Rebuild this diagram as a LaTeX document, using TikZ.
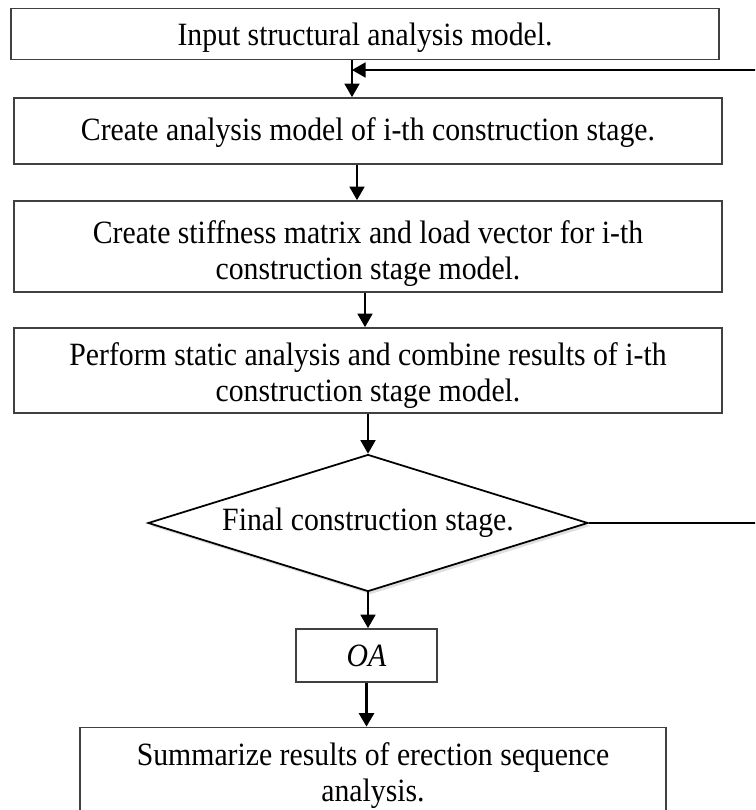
\documentclass[tikz,border=0pt]{standalone}
\usepackage{fontspec}
\setmainfont{Liberation Serif}[FakeStretch=0.915]
\usetikzlibrary{shapes.geometric,arrows.meta,shadows}

\begin{document}
\begin{tikzpicture}[x=0.02cm, y=-0.02cm,
    stagebox/.style={draw=black!75, line width=1pt, rectangle, align=center, inner sep=0pt,
        font=\fontsize{18.5}{20.5}\selectfont},
    flow/.style={line width=1pt, -{Triangle[length=0.27cm, width=0.3cm]}}]

    % Fix the size of the picture (the last box runs off the bottom)
    \clip (0,0) rectangle (755,810);

    % The stages of the analysis
    \node[stagebox, minimum width=14.16cm, minimum height=1.02cm] (input) at (365,34)
        {\rule{0pt}{0.59cm}Input structural analysis model.};
    \node[stagebox, minimum width=14.16cm, minimum height=1.32cm] (stagemodel) at (368,131)
        {\rule{0pt}{0.51cm}Create analysis model of i-th construction stage.};
    \node[stagebox, minimum width=14.16cm, minimum height=1.82cm] (stiffness) at (368,246.5)
        {\rule{0pt}{0.75cm}Create stiffness matrix and load vector for i-th\\ construction stage model.};
    \node[stagebox, minimum width=14.16cm, minimum height=1.70cm] (static) at (368,370.5)
        {\rule{0pt}{0.67cm}Perform static analysis and combine results of i-th\\ construction stage model.};

    % Decision: is this the last stage?
    \node[stagebox, diamond, aspect=3.2, draw=black, minimum width=8.8cm, minimum height=2.74cm,
        drop shadow={shadow xshift=0.05cm, shadow yshift=-0.06cm, opacity=0.25}, fill=white]
        (final) at (368,523) {Final construction stage.};

    \node[stagebox, minimum width=2.82cm, minimum height=1.06cm] (oa) at (366.5,655.5) {\textit{OA}};
    \node[stagebox, minimum width=11.72cm, minimum height=1.94cm] (summary) at (373,776)
        {Summarize results of erection sequence\\ analysis.};

    % Points where the loop back joins the main line
    \coordinate (join) at (352,70);
    \coordinate (loopright) at (780,70);

    % Arrows down the chart
    \draw[flow] (input.south -| join) -- (join |- stagemodel.north);
    \draw[flow] ([xshift=-0.22cm]stagemodel.south) -- ([xshift=-0.22cm]stiffness.north);
    \draw[flow] ([xshift=-0.06cm]stiffness.south) -- ([xshift=-0.06cm]static.north);
    \draw[flow] (static.south) -- (final.north);
    \draw[flow] (final.south) -- (final.south |- oa.north);
    \draw[flow, line width=1.6pt] (oa.south) -- (oa.south |- summary.north);

    % Loop back to the next stage
    \draw[flow] (final.east) -- (final.east -| loopright) -- (loopright) -- (join);

\end{tikzpicture}
\end{document}
